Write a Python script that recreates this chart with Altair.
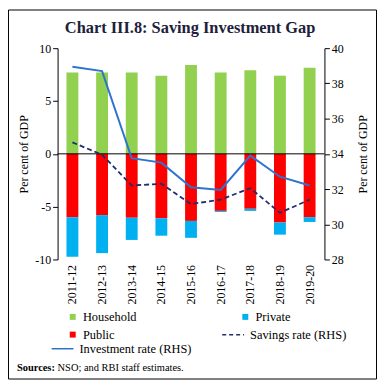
import altair as alt
import pandas as pd

years = ["2011-12", "2012-13", "2013-14", "2014-15", "2015-16",
         "2016-17", "2017-18", "2018-19", "2019-20"]
household = [7.7, 7.7, 7.7, 7.4, 8.4, 7.7, 7.9, 7.4, 8.15]
public = [-6.0, -5.8, -6.05, -6.1, -6.35, -5.4, -5.2, -6.5, -6.0]
private = [-3.75, -3.6, -2.1, -1.65, -1.6, -0.1, -0.2, -1.15, -0.45]
investment = [38.95, 38.7, 33.75, 33.5, 32.1, 31.95, 33.9, 32.7, 32.2]
savings = [34.65, 33.95, 32.2, 32.3, 31.15, 31.4, 32.05, 30.65, 31.4]

# legend is laid out column-major: Household, Public in column 1; Private in column 2
bar_series = ["Household", "Public", "Private"]
bar_colors = ["#92D050", "#FF0000", "#00B0F0"]
inv_label = "Investment rate (RHS)"
sav_label = "Savings rate (RHS)"
inv_color = "#2E74CF"
sav_color = "#1F2F6E"
title_text = "Chart III.8: Saving Investment Gap"
source_bold = "Sources:"
source_rest = "NSO; and RBI staff estimates."

FONT = "Liberation Serif"

rows = []
for i, yr in enumerate(years):
    rows.append(dict(year=yr, series="Household", lo=0.0, hi=household[i]))
    rows.append(dict(year=yr, series="Public", lo=0.0, hi=public[i]))
    rows.append(dict(year=yr, series="Private", lo=public[i], hi=public[i] + private[i]))
bar_df = pd.DataFrame(rows)

line_df = pd.DataFrame({
    "year": years,
    "investment": investment,
    "savings": savings,
    "inv_label": [inv_label] * len(years),
    "sav_label": [sav_label] * len(years),
})

x_enc = alt.X(
    "year:N", sort=years,
    scale=alt.Scale(paddingInner=0.6, paddingOuter=0.3),
    axis=alt.Axis(title=None, ticks=False, domain=False, labelAngle=270,
                  labelPadding=5, labelFont=FONT, labelFontSize=12,
                  labelColor="black"),
)

left_axis = alt.Axis(values=[-10, -5, 0, 5, 10], title="Per cent of GDP",
                     labelExpr="replace(datum.label, '\u2212', '-')",
                     titlePadding=4, grid=False)
left_scale = alt.Scale(domain=[-10, 10], nice=False)

right_axis = alt.Axis(orient="right", values=list(range(28, 41, 2)),
                      title="Per cent of GDP", titleAngle=270,
                      titleBaseline="top", titlePadding=14, grid=False)
right_scale = alt.Scale(domain=[28, 40], nice=False, zero=False)

legend_common = dict(title=None, orient="none", padding=0,
                     labelFont=FONT, labelFontSize=12.5, labelColor="black")

bars = alt.Chart(bar_df).mark_bar().encode(
    x=x_enc,
    y=alt.Y("lo:Q", scale=left_scale, axis=left_axis),
    y2="hi:Q",
    color=alt.Color("series:N",
                    scale=alt.Scale(domain=bar_series, range=bar_colors),
                    legend=alt.Legend(legendX=9, legendY=264.5, columns=2,
                                      columnPadding=103, rowPadding=5,
                                      symbolType="square", symbolSize=36,
                                      symbolStrokeWidth=0, labelOffset=4,
                                      **legend_common)),
)

zero_rule = alt.Chart(pd.DataFrame({"v": [0]})).mark_rule(
    color="black", strokeWidth=1
).encode(y=alt.Y("v:Q", scale=left_scale, axis=left_axis))

inv_line = alt.Chart(line_df).mark_line(strokeWidth=2).encode(
    x=x_enc,
    y=alt.Y("investment:Q", scale=right_scale, axis=right_axis),
    color=alt.Color("inv_label:N",
                    scale=alt.Scale(domain=[inv_label], range=[inv_color]),
                    legend=alt.Legend(legendX=-7, legendY=291,
                                      symbolType="stroke", symbolSize=484,
                                      symbolStrokeWidth=1.5, labelOffset=5,
                                      **legend_common)),
)

sav_line = alt.Chart(line_df).mark_line(strokeWidth=1.8, strokeDash=[5, 3]).encode(
    x=x_enc,
    y=alt.Y("savings:Q", scale=right_scale, axis=right_axis),
    color=alt.Color("sav_label:N",
                    scale=alt.Scale(domain=[sav_label], range=[sav_color]),
                    legend=alt.Legend(legendX=165, legendY=277,
                                      symbolType="stroke", symbolSize=484,
                                      symbolStrokeWidth=1.5, symbolDash=[4, 3],
                                      labelOffset=5, **legend_common)),
)

one = pd.DataFrame({"a": [0]})
border = alt.Chart(one).mark_rect(fillOpacity=0, stroke="black", strokeWidth=1).encode(
    x=alt.value(-49.5), x2=alt.value(321.5), y=alt.value(-38.5), y2=alt.value(333.5)
)
title_mark = alt.Chart(one).mark_text(
    align="center", baseline="alphabetic", font=FONT, fontSize=16.5,
    fontWeight="bold", color="#20203a", text=title_text
).encode(x=alt.value(133.5), y=alt.value(-15))
src_bold = alt.Chart(one).mark_text(
    align="left", baseline="alphabetic", font=FONT, fontSize=10.5,
    fontWeight="bold", color="black", text=source_bold
).encode(x=alt.value(-41), y=alt.value(325.5))
src_rest = alt.Chart(one).mark_text(
    align="left", baseline="alphabetic", font=FONT, fontSize=10.5,
    color="black", text=source_rest
).encode(x=alt.value(0), y=alt.value(325.5))

left_group = alt.layer(bars, zero_rule)
right_group = alt.layer(inv_line, sav_line).resolve_scale(color="independent")

chart = alt.layer(left_group, right_group, border, title_mark, src_bold, src_rest).resolve_scale(
    y="independent", color="independent"
).properties(
    width=269, height=213,
    autosize=alt.AutoSizeParams(type="none"),
    padding={"left": 50, "top": 39, "right": 53, "bottom": 121},
).configure_view(stroke=None).configure_axis(
    domainColor="black", tickColor="black", tickSize=5, labelFont=FONT,
    labelFontSize=12, labelColor="black", titleFont=FONT, titleFontSize=12,
    titleFontWeight="normal", titleColor="black", grid=False,
)

chart.save("out.html", embed_options={"renderer": "svg", "actions": False})
